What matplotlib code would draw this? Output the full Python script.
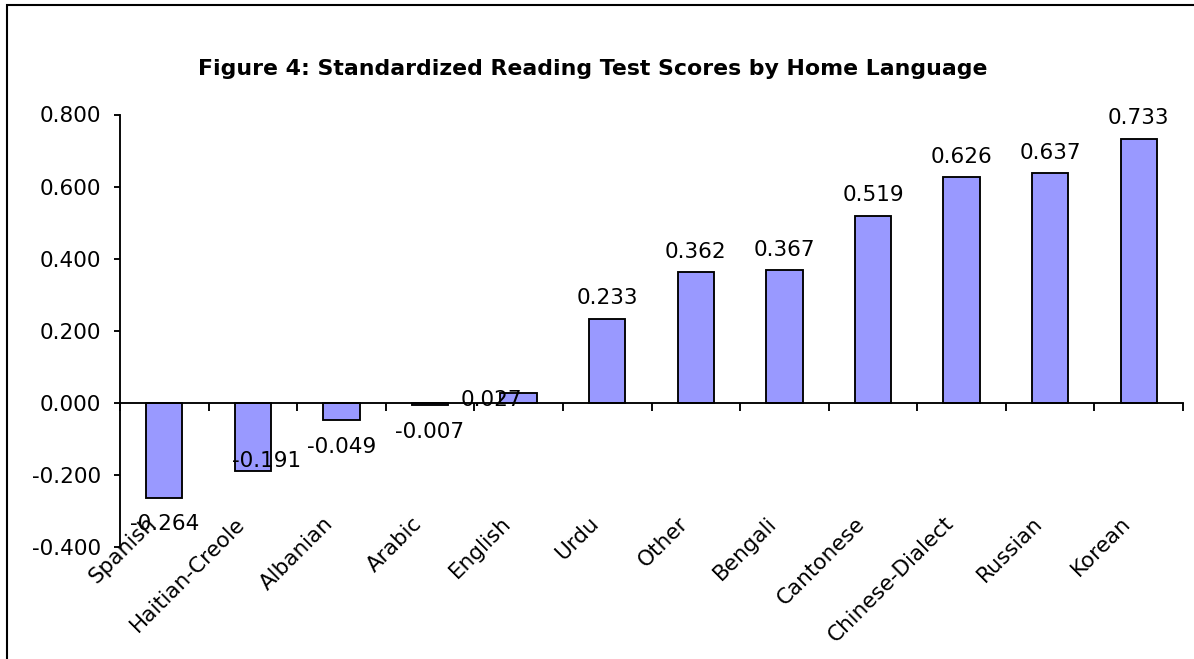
import matplotlib
matplotlib.use("Agg")
import matplotlib.pyplot as plt
import matplotlib.transforms as mtransforms
from matplotlib.patches import Rectangle
import numpy as np

# ---- data ----
categories = ["Spanish", "Haitian-Creole", "Albanian", "Arabic", "English", "Urdu",
              "Other", "Bengali", "Cantonese", "Chinese-Dialect", "Russian", "Korean"]
scores = [-0.264, -0.191, -0.049, -0.007, 0.027, 0.233,
          0.362, 0.367, 0.519, 0.626, 0.637, 0.733]
y_ticks = [-0.4, -0.2, 0.0, 0.2, 0.4, 0.6, 0.8]
title = "Figure 4: Standardized Reading Test Scores by Home Language"

# ---- style ----
W, H, DPI = 1194, 659, 100
FONT = "DejaVu Sans"
FS = 15.5
BAR_COLOR = "#9999FF"
LW = 1.35

plt.rcParams["font.family"] = [FONT]

fig = plt.figure(figsize=(W / DPI, H / DPI), dpi=DPI)
fig.patch.set_facecolor("white")

# axes placement in pixels
ax_left, ax_right, ax_top, ax_bottom = 120, 1183, 114.5, 546.7
ax = fig.add_axes([ax_left / W, (H - ax_bottom) / H,
                   (ax_right - ax_left) / W, (ax_bottom - ax_top) / H])

x = np.arange(len(categories))
ax.bar(x, scores, width=0.41, color=BAR_COLOR, edgecolor="black", linewidth=LW, zorder=2)

ax.set_xlim(-0.5, len(categories) - 0.5)
ax.set_ylim(y_ticks[0], y_ticks[-1])

# spines
for s in ("top", "right"):
    ax.spines[s].set_visible(False)
ax.spines["left"].set_linewidth(LW)
ax.spines["bottom"].set_linewidth(LW)
ax.spines["bottom"].set_position(("data", 0))
ax.spines["bottom"].set_zorder(3)

# y axis
ax.set_yticks(y_ticks)
ax.set_yticklabels([f"{v:.3f}" for v in y_ticks])
ax.tick_params(axis="y", direction="out", length=4, width=LW, pad=9.5, labelsize=FS)

# x axis: major ticks at category boundaries, labels on minor ticks
ax.set_xticks(np.arange(-0.5, len(categories), 1.0))
ax.set_xticklabels([])
ax.set_xticks(x, minor=True)
ax.set_xticklabels(categories, minor=True)
ax.tick_params(axis="x", which="major", direction="out", length=5.8, width=LW)
ax.tick_params(axis="x", which="minor", length=0, pad=87.7, labelsize=FS)
shift = mtransforms.ScaledTranslation(-7 / DPI, 0, fig.dpi_scale_trans)
for lab in ax.get_xticklabels(minor=True):
    lab.set_rotation(45)
    lab.set_rotation_mode("anchor")
    lab.set_ha("right")
    lab.set_va("baseline")
    lab.set_transform(lab.get_transform() + shift)

# data labels (pixel offsets)
label_offsets = {1: (13.5, 4.0), 4: (-27.6, -13.5)}
for i, v in enumerate(scores):
    if i in label_offsets:
        dx, dy = label_offsets[i]
    elif v >= 0:
        dx, dy = 0, 14.5
    else:
        dx, dy = 0, -32.5
    ax.annotate(f"{v:.3f}", xy=(x[i], v), xytext=(dx, dy), textcoords="offset pixels",
                ha="center", va="baseline", fontsize=FS, zorder=4)

# title
fig.text(592.5 / W, 1 - 75 / H, title, ha="center", va="baseline",
         fontsize=15.8, fontweight="bold")

# outer chart border (extends beyond right/bottom edge)
fig.add_artist(Rectangle((6.7 / W, -0.1), 1.2, (1 - 5 / H) + 0.1,
                         transform=fig.transFigure, fill=False,
                         edgecolor="black", linewidth=1.5, clip_on=False))

fig.savefig("out.png", dpi=DPI, facecolor="white")
